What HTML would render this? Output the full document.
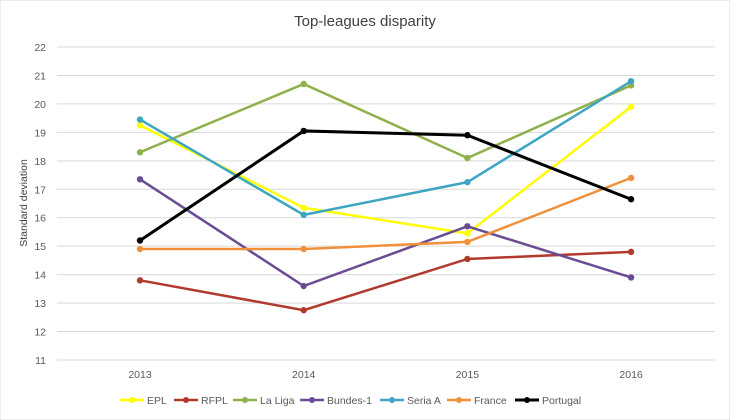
<!DOCTYPE html>
<html><head><meta charset="utf-8"><style>
body{margin:0;background:#fff;}
svg{display:block;font-family:"Liberation Sans",sans-serif;}
</style></head><body>
<svg id="chart" width="730" height="420">
<rect x="0" y="0" width="730" height="420" fill="#fff" stroke="#d9d9d9"/>
<text x="365" y="26" text-anchor="middle" font-size="15" fill="#404040">Top-leagues disparity</text>
<text transform="translate(27,203) rotate(-90)" text-anchor="middle" font-size="10.5" fill="#404040">Standard deviation</text>
<g id="grid"></g><g id="series"></g><g id="legend"></g>
</svg>
<script>
const years=["2013","2014","2015","2016"];
const yTicks=[11,12,13,14,15,16,17,18,19,20,21,22];
const seriesNames=["EPL","RFPL","La Liga","Bundes-1","Seria A","France","Portugal"];
const colors=["#ffff00","#b03a2e","#8fb04a","#6a4c93","#3ea6c0","#f0903a","#000000"];
const epl=[19.25,16.35,15.45,19.9];
const rfpl=[13.8,12.75,14.55,14.8];
const laliga=[18.3,20.7,18.1,20.65];
const bundes=[17.35,13.6,15.7,13.9];
const seriea=[19.45,16.1,17.25,20.8];
const france=[14.9,14.9,15.15,17.4];
const portugal=[15.2,19.05,18.9,16.65];
const data=[epl,rfpl,laliga,bundes,seriea,france,portugal];
const legendX=[120,174,233,300,380,447,515];
const NS="http://www.w3.org/2000/svg";
const y=v=>360-(v-11)*(313/11);
const x=i=>140+i*163.7;
function mk(tag,attrs,parent){const e=document.createElementNS(NS,tag);for(const k in attrs)e.setAttribute(k,attrs[k]);parent.appendChild(e);return e;}
const grid=document.getElementById('grid');
yTicks.forEach(t=>{
 const l=mk('line',{x1:57,x2:715,y1:y(t),y2:y(t),stroke:'#d9d9d9','stroke-width':1},grid);
 
 
 const tx=mk('text',{x:46,y:y(t)+4,'text-anchor':'end','font-size':10.5,fill:'#595959'},grid);
 tx.textContent=t;
 
 
});
years.forEach((yr,i)=>{
 const tx=mk('text',{x:x(i),y:378,'text-anchor':'middle','font-size':10.5,fill:'#595959'},grid);
 tx.textContent=yr;
 
 
});
const sg=document.getElementById('series');
const lg=document.getElementById('legend');
data.forEach((d,s)=>{
 const g=mk('g',{},sg);
 
 
 const pl=mk('polyline',{points:d.map((v,i)=>x(i)+','+y(v)).join(' '),fill:'none',stroke:colors[s],'stroke-width':s==6?3:2.5},g);
 
 
 d.forEach((v,i)=>{
  const c=mk('circle',{cx:x(i),cy:y(v),r:3.2,fill:colors[s]},g);
  
  
 });
 const le=mk('g',{},lg);
 
 
 const lx=legendX[s];
 mk('line',{x1:lx,x2:lx+24,y1:400,y2:400,stroke:colors[s],'stroke-width':s==6?3:2.5},le);
 mk('circle',{cx:lx+12,cy:400,r:3,fill:colors[s]},le);
 const t=mk('text',{x:lx+27,y:404,'font-size':10.5,fill:'#595959'},le);
 t.textContent=seriesNames[s];
});
</script>
</body></html>
